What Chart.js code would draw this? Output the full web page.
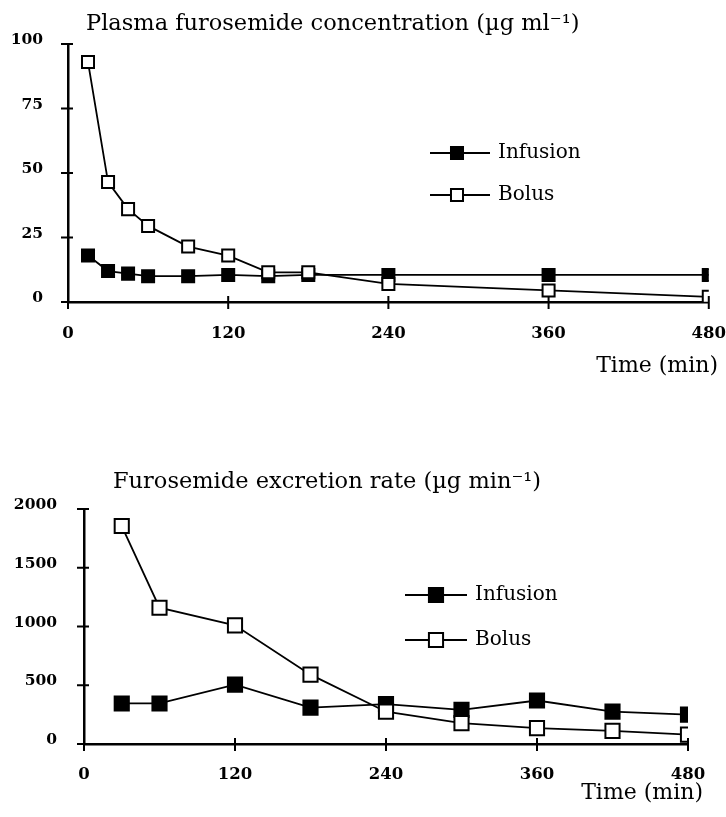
<!DOCTYPE html>
<html>
<head>
<meta charset="utf-8">
<script src="https://cdn.jsdelivr.net/npm/chart.js@4.4.0/dist/chart.umd.min.js"></script>
<style>
  body { margin: 0; background: #fff; }
  #wrap { position: relative; width: 726px; height: 817px; }
  canvas { position: absolute; left: 0; }
  #conc { top: 0; }
  #rate { top: 400px; }
</style>
</head>
<body>
<div id="wrap">
  <canvas id="conc" width="726" height="400"></canvas>
  <canvas id="rate" width="726" height="417"></canvas>
</div>
<script>
// plasma concentration (ug/ml)
const concTimes = [15, 30, 45, 60, 90, 120, 150, 180, 240, 360, 480]
const concInfusion = [18, 12, 11, 10, 10, 10.5, 10, 10.5, 10.5, 10.5, 10.5]
const concBolus = [93, 46.5, 36, 29.5, 21.5, 18, 11.5, 11.5, 7, 4.5, 2]
const concTicks = [0, 25, 50, 75, 100]

// excretion rate (ug/min)
const rateTimes = [30, 60, 120, 180, 240, 300, 360, 420, 480]
const rateInfusion = [345, 345, 505, 310, 340, 290, 370, 275, 250]
const rateBolus = [1855, 1160, 1010, 590, 275, 178, 135, 112, 80]
const rateTicks = [0, 500, 1000, 1500, 2000]

const timeTicks = [0, 120, 240, 360, 480]
const timeLabel = 'Time (min)'

const serif = '"DejaVu Serif", serif'

// axis cross ticks, titles and legend drawn on the canvas
const decor = {
  id: 'decor',
  afterDraw(chart, args, opts) {
    const ctx = chart.ctx
    const { left, bottom } = chart.chartArea
    const x = chart.scales.x
    const y = chart.scales.y
    ctx.save()
    ctx.strokeStyle = '#000'
    ctx.lineWidth = 2
    ctx.beginPath()
    y.ticks.forEach((t) => {
      const py = y.getPixelForValue(t.value)
      ctx.moveTo(left - 7, py)
      ctx.lineTo(left + 5, py)
    })
    x.ticks.forEach((t) => {
      const px = x.getPixelForValue(t.value)
      ctx.moveTo(px, bottom - 6)
      ctx.lineTo(px, bottom + 7)
    })
    ctx.stroke()

    ctx.fillStyle = '#000'
    ctx.font = '22.5px ' + serif
    ctx.textAlign = 'left'
    ctx.textBaseline = 'alphabetic'
    ctx.fillText(opts.title, opts.titleX, opts.titleY)

    ctx.font = '22px ' + serif
    ctx.textAlign = 'right'
    ctx.textBaseline = 'middle'
    ctx.fillText(timeLabel, opts.xTitleRight, opts.xTitleY)

    ctx.font = '20px ' + serif
    ctx.textAlign = 'left'
    opts.legendOrder.forEach((di, i) => {
      const ds = chart.data.datasets[di]
      const lx = opts.legendX
      const ly = opts.legendY + i * opts.legendGap
      ctx.strokeStyle = '#000'
      ctx.lineWidth = ds.borderWidth
      ctx.beginPath()
      ctx.moveTo(lx, ly)
      ctx.lineTo(lx + opts.lineLen, ly)
      ctx.stroke()
      ctx.fillStyle = ds.pointBackgroundColor
      ctx.lineWidth = ds.pointBorderWidth
      Chart.helpers.drawPoint(ctx, { pointStyle: 'rect', radius: ds.pointRadius, borderWidth: ds.pointBorderWidth }, lx + opts.markerAt, ly)
      ctx.fillStyle = '#000'
      ctx.fillText(ds.label, lx + opts.lineLen + 8, ly)
    })
    ctx.restore()
  },
}

const makeChart = (canvas, cfg) => {
  const line = (label, times, values, fill, order) => ({
    label,
    data: times.map((t, i) => ({ x: t, y: values[i] })),
    borderColor: '#000',
    borderWidth: 1.8,
    pointStyle: 'rect',
    pointRadius: cfg.pointRadius,
    pointHoverRadius: cfg.pointRadius,
    pointBorderWidth: 2,
    pointBorderColor: '#000',
    pointBackgroundColor: fill,
    tension: 0,
    order,
  })
  return new Chart(canvas, {
    type: 'line',
    data: {
      datasets: [
        line('Infusion', cfg.times, cfg.infusion, '#000', 1),
        line('Bolus', cfg.times, cfg.bolus, '#fff', 0),
      ],
    },
    plugins: [decor],
    options: {
      responsive: false,
      animation: false,
      devicePixelRatio: 1,
      layout: { padding: cfg.padding },
      plugins: {
        legend: { display: false },
        tooltip: { enabled: false },
        decor: cfg.decor,
      },
      scales: {
        x: {
          type: 'linear',
          min: 0,
          max: 480,
          afterBuildTicks: (scale) => { scale.ticks = timeTicks.map((v) => ({ value: v })) },
          afterFit: (scale) => { scale.height = cfg.xHeight },
          grid: { display: false, drawTicks: true, tickLength: cfg.xTickGap },
          border: { display: true, color: '#000', width: 2.5 },
          ticks: {
            color: '#000',
            padding: 0,
            maxRotation: 0,
            callback: (v) => String(v),
            font: { family: serif, size: 16.5, weight: 'bold' },
          },
        },
        y: {
          min: 0,
          max: cfg.yTicks[cfg.yTicks.length - 1],
          afterBuildTicks: (scale) => { scale.ticks = cfg.yTicks.map((v) => ({ value: v })) },
          afterFit: (scale) => { scale.width = cfg.yWidth },
          grid: { display: false, drawTicks: false },
          border: { display: true, color: '#000', width: 2.5 },
          ticks: {
            color: '#000',
            padding: cfg.yTickPad,
            labelOffset: -4,
            callback: (v) => String(v),
            font: { family: serif, size: 15.5, weight: 'bold' },
          },
        },
      },
    },
  })
}

makeChart(document.getElementById('conc'), {
  times: concTimes,
  infusion: concInfusion,
  bolus: concBolus,
  yTicks: concTicks,
  pointRadius: 8.5,
  padding: { top: 44, right: 15, left: 0, bottom: 0 },
  yWidth: 68,
  yTickPad: 25,
  xHeight: 98,
  xTickGap: 22,
  decor: {
    title: 'Plasma furosemide concentration (\u00b5g ml\u207b\u00b9)',
    titleX: 86, titleY: 30,
    xTitleRight: 718, xTitleY: 366,
    legendX: 430, legendY: 153, legendGap: 42, lineLen: 60, markerAt: 27,
    legendOrder: [0, 1],
  },
})

makeChart(document.getElementById('rate'), {
  times: rateTimes,
  infusion: rateInfusion,
  bolus: rateBolus,
  yTicks: rateTicks,
  pointRadius: 10,
  padding: { top: 109, right: 38, left: 0, bottom: 0 },
  yWidth: 84,
  yTickPad: 27,
  xHeight: 73,
  xTickGap: 21,
  decor: {
    title: 'Furosemide excretion rate (\u00b5g min\u207b\u00b9)',
    titleX: 113, titleY: 88,
    xTitleRight: 703, xTitleY: 393,
    legendX: 405, legendY: 195, legendGap: 45, lineLen: 62, markerAt: 31,
    legendOrder: [0, 1],
  },
})
</script>
</body>
</html>
